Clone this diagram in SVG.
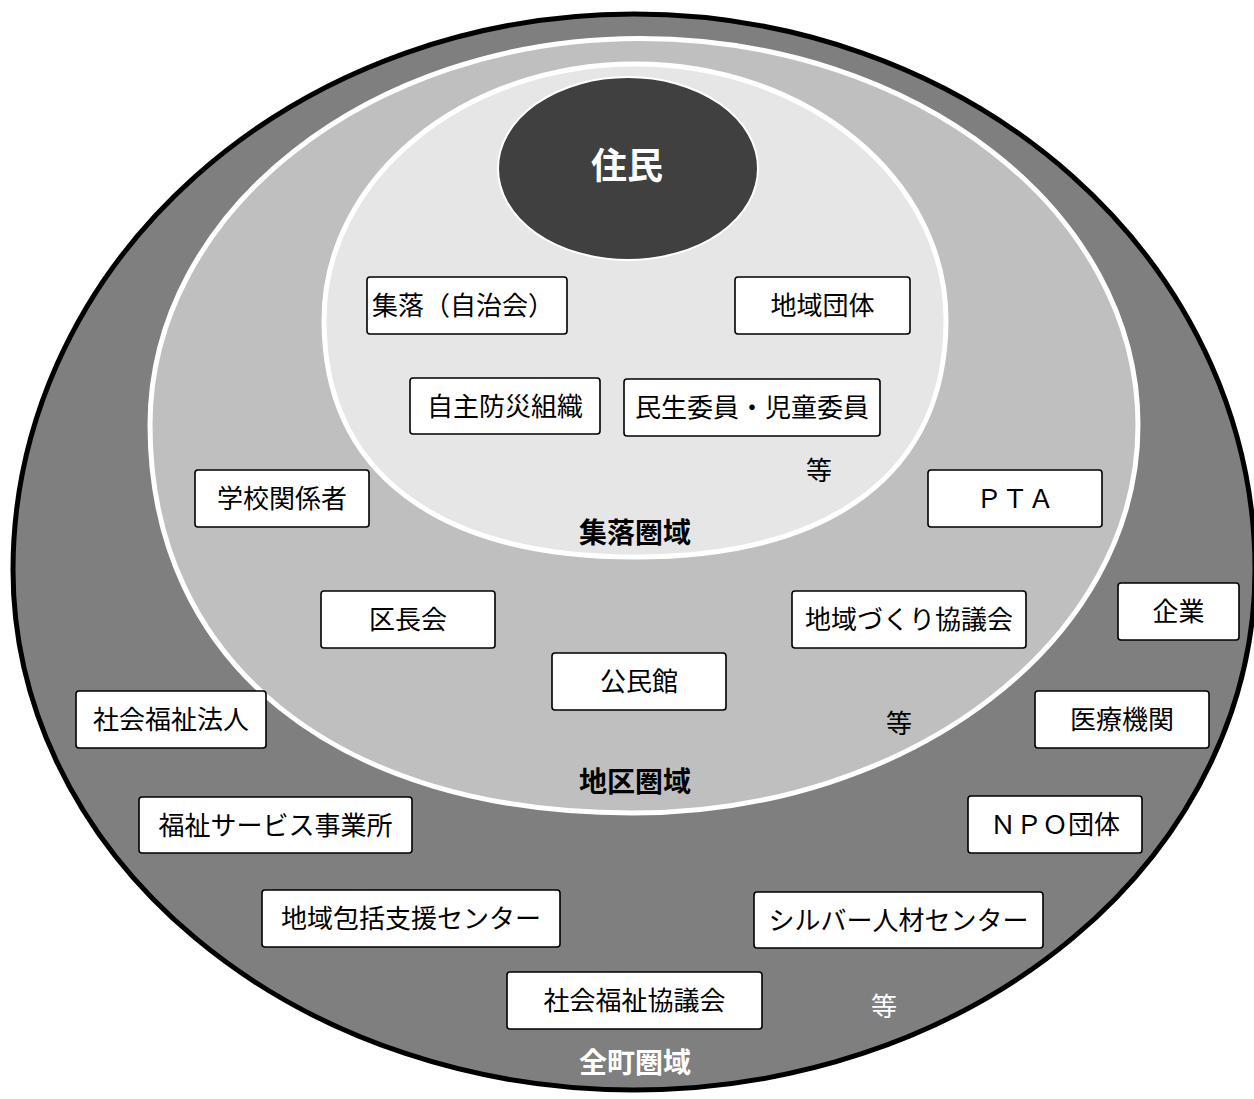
<svg xmlns="http://www.w3.org/2000/svg" width="1254" height="1099" viewBox="0 0 1254 1099">
<style>
.box{fill:#ffffff;stroke:#000000;stroke-width:1.6}
.t{font-family:"Noto Sans CJK JP","Noto Sans",sans-serif;font-size:26px;fill:#000000;text-anchor:middle}
.lab{font-family:"Noto Sans CJK JP","Noto Sans",sans-serif;font-size:28px;font-weight:bold;text-anchor:middle}
.zone{stroke:#ffffff;stroke-width:5}
</style>
<rect x="0" y="0" width="1254" height="1099" fill="#ffffff"/>
<g id="zone-zencho">
<path d="M 13,570 A 621,556 0 0 1 1255,570 A 621,520 0 0 1 13,570 Z" fill="#7f7f7f" stroke="#000000" stroke-width="5"/>
</g>
<g id="zone-chiku">
<path class="zone" fill="#bfbfbf" d="M 150,425 C 150,211.5 369.4,38.5 640,38.5 C 915,38.5 1138,211.5 1138,425 C 1138,639.3 911.5,813 632,813 C 336.8,813 150,662.7 150,425 Z"/>
</g>
<g id="zone-shuraku">
<path class="zone" fill="#e6e6e6" d="M 324,320 C 324,178.6 463.2,64 635,64 C 806.8,64 946,178.6 946,320 C 946,471.5 833.8,557 635,557 C 436.2,557 324,471.5 324,320 Z"/>
</g>
<g id="jumin">
<ellipse cx="628" cy="168.5" rx="130" ry="91.5" fill="#404040" stroke="#ffffff" stroke-width="2"/>
<text x="627" y="179" class="lab" style="font-size:36px" fill="#ffffff">住民</text>
</g>
<g id="connectors"></g>
<g id="n1"><rect class="box" x="367" y="277" width="200" height="57" rx="3"/><text class="t" x="463" y="315">集落（自治会）</text></g>
<g id="n2"><rect class="box" x="735" y="277" width="175" height="57" rx="3"/><text class="t" x="822.5" y="315">地域団体</text></g>
<g id="n3"><rect class="box" x="410" y="378" width="190" height="56" rx="3"/><text class="t" x="505" y="415.5">自主防災組織</text></g>
<g id="n4"><rect class="box" x="624" y="379" width="256" height="57" rx="3"/><text class="t" x="752" y="417">民生委員・児童委員</text></g>
<g id="n5"><rect class="box" x="195" y="470" width="174" height="57" rx="3"/><text class="t" x="282" y="508">学校関係者</text></g>
<g id="n6"><rect class="box" x="928" y="470" width="174" height="57" rx="3"/><text class="t" x="1015" y="508">ＰＴＡ</text></g>
<g id="n7"><rect class="box" x="321" y="591" width="174" height="57" rx="3"/><text class="t" x="408" y="629">区長会</text></g>
<g id="n8"><rect class="box" x="792" y="591" width="234" height="57" rx="3"/><text class="t" x="909" y="629">地域づくり協議会</text></g>
<g id="n9"><rect class="box" x="1118" y="583" width="121" height="57" rx="3"/><text class="t" x="1178.5" y="621">企業</text></g>
<g id="n10"><rect class="box" x="552" y="653" width="174" height="57" rx="3"/><text class="t" x="639" y="691">公民館</text></g>
<g id="n11"><rect class="box" x="76" y="691" width="190" height="57" rx="3"/><text class="t" x="171" y="729">社会福祉法人</text></g>
<g id="n12"><rect class="box" x="1035" y="691" width="174" height="57" rx="3"/><text class="t" x="1122" y="729">医療機関</text></g>
<g id="n13"><rect class="box" x="139" y="797" width="273" height="56" rx="3"/><text class="t" x="275.5" y="834.5">福祉サービス事業所</text></g>
<g id="n14"><rect class="box" x="968" y="796" width="174" height="57" rx="3"/><text class="t" x="1055" y="834">ＮＰＯ団体</text></g>
<g id="n15"><rect class="box" x="262" y="890" width="298" height="57" rx="3"/><text class="t" x="411" y="928">地域包括支援センター</text></g>
<g id="n16"><rect class="box" x="754" y="892" width="289" height="56" rx="3"/><text class="t" x="898.5" y="929.5">シルバー人材センター</text></g>
<g id="n17"><rect class="box" x="507" y="972" width="255" height="57" rx="3"/><text class="t" x="634.5" y="1010">社会福祉協議会</text></g>
<g id="labels">
<text class="t" x="819" y="480">等</text>
<text class="t" x="899" y="733">等</text>
<text class="t" x="884" y="1016" style="fill:#ffffff">等</text>
<text class="lab" x="635" y="543" fill="#000000">集落圏域</text>
<text class="lab" x="635" y="792" fill="#000000">地区圏域</text>
<text class="lab" x="635" y="1073" fill="#ffffff">全町圏域</text>
</g>
</svg>
